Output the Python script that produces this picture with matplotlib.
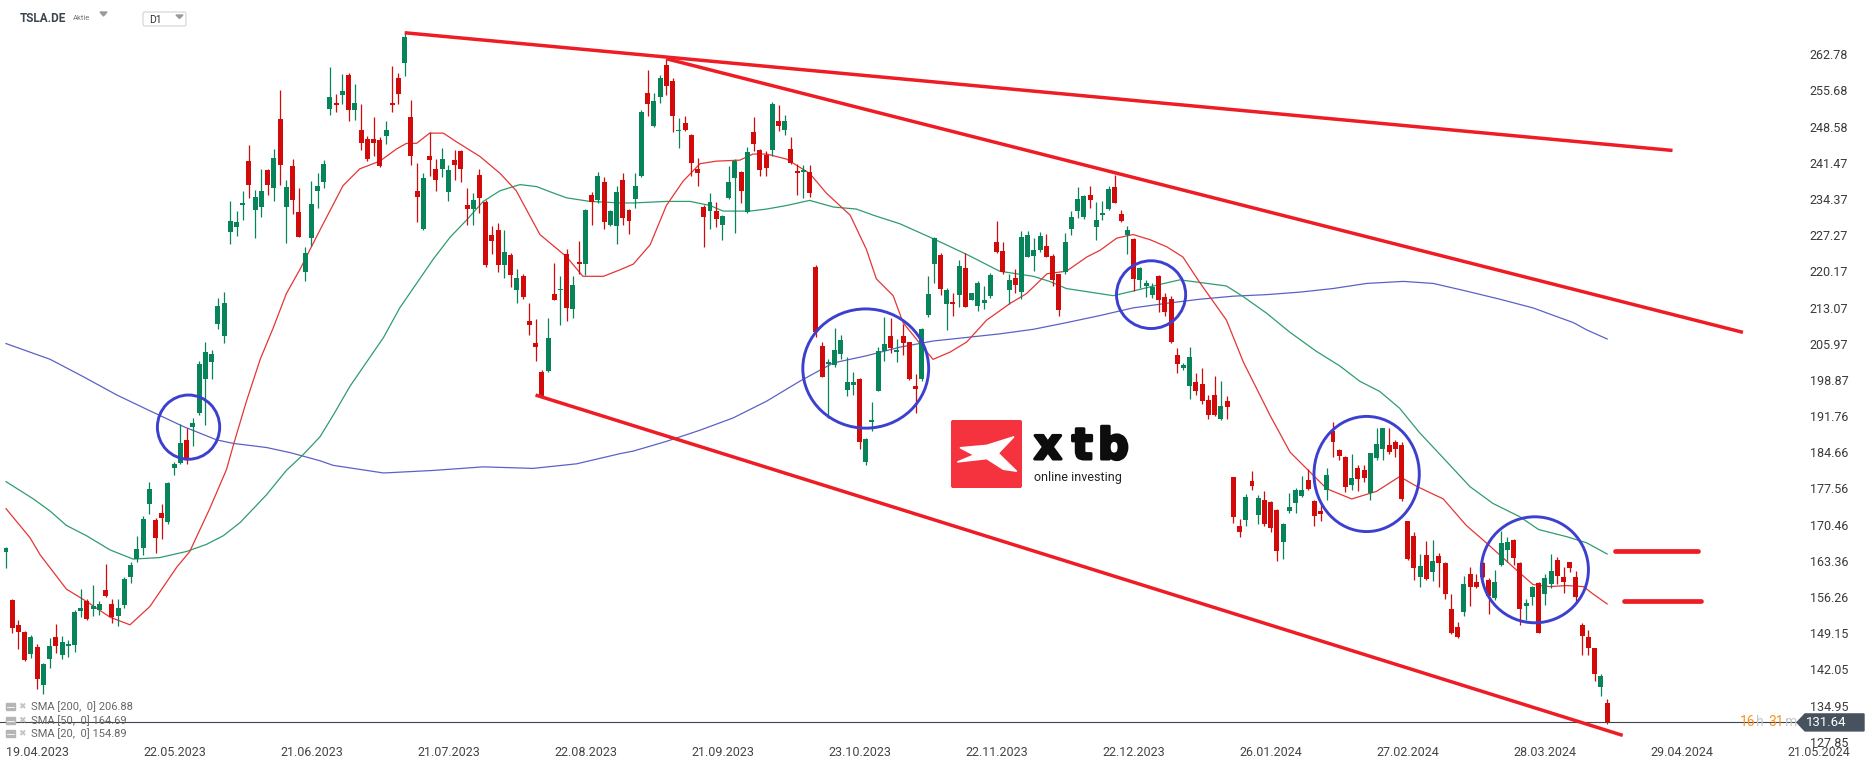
import numpy as np
import matplotlib.pyplot as plt
import matplotlib.patheffects as pe
from matplotlib.patches import Ellipse, Polygon, FancyBboxPatch, Rectangle

plt.rcParams['font.family'] = ['Roboto', 'DejaVu Sans']

# daily candles TSLA.DE, 19.04.2023 .. 22.04.2024 (EUR)
opens = [
    165.0, 155.6, 150.8, 149.3, 145.1, 146.5, 138.9, 144.1, 148.4, 144.8,
    146.6, 146.9, 153.6, 155.4, 153.9, 153.8, 157.6, 154.9, 152.5, 154.7,
    160.2, 163.7, 165.8, 174.6, 171.4, 172.7, 170.9, 181.5, 182.6, 187.0,
    189.7, 192.3, 199.0, 202.4, 209.9, 207.4, 227.8, 228.8, 233.2, 241.8,
    232.2, 232.9, 240.0, 236.5, 250.1, 232.9, 240.8, 231.9, 220.0, 226.7,
    235.9, 237.7, 252.1, 253.2, 254.7, 258.8, 251.9, 248.0, 246.2, 246.2,
    245.9, 246.8, 253.3, 258.2, 261.0, 250.4, 236.0, 228.5, 242.9, 240.3,
    240.3, 235.8, 242.0, 243.7, 233.2, 232.4, 239.1, 233.8, 227.4, 228.3,
    221.5, 223.4, 216.5, 219.2, 210.4, 206.1, 200.5, 200.7, 215.7, 216.5,
    223.5, 212.8, 222.1, 221.6, 235.2, 234.1, 237.7, 229.3, 229.1, 238.1,
    232.2, 234.3, 238.9, 255.2, 248.7, 254.4, 260.6, 257.6, 247.7, 249.2,
    247.0, 240.3, 232.8, 232.0, 232.0, 229.3, 234.6, 238.4, 239.6, 231.9,
    247.5, 243.9, 243.1, 243.9, 249.6, 248.0, 244.2, 239.8, 239.6, 239.6,
    221.1, 205.5, 202.0, 201.8, 203.9, 196.9, 197.9, 199.0, 182.7, 190.6,
    196.7, 204.5, 207.4, 204.3, 207.4, 206.3, 197.6, 199.0, 211.7, 221.6,
    223.3, 213.7, 214.1, 215.6, 220.8, 214.6, 213.3, 214.0, 215.4, 225.9,
    224.2, 216.6, 218.9, 216.1, 223.0, 223.2, 224.3, 225.2, 223.2, 219.7,
    220.0, 228.5, 232.0, 230.9, 235.2, 228.8, 231.2, 232.4, 236.7, 231.5,
    227.4, 226.6, 218.5, 217.3, 215.6, 219.2, 215.2, 214.7, 203.7, 201.3,
    197.6, 198.4, 198.1, 194.9, 195.9, 191.2, 194.7, 179.9, 170.1, 171.4,
    179.0, 172.4, 175.3, 174.9, 173.4, 167.1, 173.1, 174.8, 176.0, 179.2,
    175.1, 173.1, 177.2, 188.8, 185.1, 183.7, 178.2, 181.5, 181.1, 176.7,
    183.5, 185.3, 186.1, 186.6, 186.1, 171.2, 168.3, 160.2, 164.5, 161.1,
    164.3, 163.0, 154.0, 150.4, 153.3, 160.7, 159.2, 163.0, 159.6, 156.1,
    162.6, 165.5, 167.4, 162.9, 154.4, 156.2, 159.0, 156.8, 158.9, 163.5,
    160.2, 163.1, 160.2, 150.8, 148.4, 146.2, 138.6, 135.4,
]
highs = [
    166.1, 155.8, 151.7, 149.6, 148.8, 147.1, 143.4, 148.2, 150.9, 148.7,
    147.9, 153.7, 157.8, 155.8, 158.6, 155.5, 162.8, 155.9, 155.9, 160.2,
    163.1, 168.3, 172.2, 178.9, 171.7, 174.6, 178.9, 182.7, 190.3, 189.5,
    191.4, 202.6, 206.4, 204.8, 214.9, 216.2, 233.9, 232.0, 236.0, 245.0,
    236.2, 240.2, 240.2, 244.2, 255.8, 238.1, 242.2, 236.6, 225.0, 237.9,
    239.4, 242.0, 260.3, 254.9, 259.0, 259.2, 256.9, 253.0, 246.8, 250.4,
    246.5, 249.6, 260.5, 259.2, 267.2, 253.8, 241.5, 239.4, 247.5, 242.2,
    244.4, 241.0, 243.9, 243.9, 236.5, 235.6, 240.3, 234.1, 229.1, 229.7,
    228.3, 223.7, 220.6, 219.7, 213.9, 210.8, 200.8, 211.1, 221.8, 219.2,
    224.5, 219.2, 226.2, 232.4, 235.8, 239.7, 238.7, 232.2, 237.0, 239.5,
    232.4, 239.4, 251.8, 259.7, 255.2, 258.8, 261.9, 258.1, 250.2, 250.6,
    247.1, 242.5, 233.1, 235.5, 233.8, 231.2, 240.8, 242.2, 239.8, 244.6,
    250.4, 244.1, 243.7, 253.5, 252.8, 250.9, 246.6, 241.3, 241.1, 241.0,
    221.4, 206.3, 202.9, 209.1, 207.6, 203.4, 200.5, 199.3, 187.5, 194.5,
    205.3, 211.2, 211.1, 206.9, 209.9, 206.4, 200.0, 209.1, 219.2, 226.9,
    223.7, 217.0, 215.9, 222.4, 223.7, 215.9, 218.2, 217.3, 219.9, 230.0,
    225.9, 219.7, 220.6, 228.1, 228.0, 226.7, 227.8, 227.6, 223.5, 219.7,
    227.7, 232.0, 236.8, 235.2, 236.9, 233.8, 233.9, 236.9, 239.1, 232.2,
    229.1, 226.8, 221.1, 218.4, 217.8, 219.4, 216.0, 215.3, 205.1, 202.2,
    205.3, 200.3, 201.3, 195.9, 199.7, 198.6, 195.7, 179.9, 171.5, 176.5,
    181.0, 176.3, 177.0, 175.1, 173.6, 170.7, 176.7, 177.6, 180.1, 181.3,
    175.3, 174.6, 181.5, 190.7, 185.3, 184.0, 184.4, 182.1, 182.1, 184.6,
    189.4, 189.4, 189.4, 187.1, 186.6, 171.2, 169.0, 164.7, 167.3, 167.4,
    164.8, 163.2, 156.8, 151.4, 160.4, 162.1, 160.7, 163.2, 159.9, 161.6,
    169.3, 168.1, 167.6, 163.1, 155.8, 158.5, 159.2, 160.7, 164.7, 164.2,
    162.1, 163.2, 161.4, 151.1, 149.8, 146.3, 141.2, 136.2,
]
lows = [
    161.9, 149.1, 146.1, 143.7, 144.2, 138.3, 137.3, 142.3, 145.3, 144.1,
    144.5, 145.5, 152.3, 151.8, 152.5, 152.8, 156.3, 151.1, 150.6, 154.1,
    159.0, 163.1, 164.5, 172.5, 164.8, 167.7, 170.5, 180.3, 182.4, 182.4,
    185.8, 191.9, 190.1, 199.0, 208.9, 206.1, 225.6, 227.2, 230.2, 234.6,
    226.7, 230.8, 235.2, 233.9, 237.2, 225.7, 231.5, 226.9, 218.2, 225.2,
    232.6, 236.5, 250.9, 251.5, 253.1, 249.6, 249.8, 243.9, 241.9, 242.9,
    240.6, 245.2, 251.4, 253.0, 258.6, 241.1, 229.8, 228.2, 238.9, 236.0,
    238.7, 233.9, 238.1, 237.7, 229.3, 229.2, 231.7, 221.1, 223.5, 220.1,
    218.9, 217.1, 213.9, 214.7, 207.7, 202.6, 195.5, 200.5, 214.5, 209.6,
    210.4, 211.1, 219.7, 219.5, 229.3, 233.6, 228.5, 229.1, 225.6, 229.3,
    227.6, 232.6, 238.7, 250.6, 248.5, 253.3, 254.7, 247.5, 244.4, 247.7,
    238.9, 237.0, 225.0, 228.5, 228.8, 226.4, 234.3, 227.7, 233.6, 231.7,
    243.7, 238.9, 238.9, 242.9, 247.7, 247.0, 241.3, 235.2, 234.6, 234.8,
    207.2, 199.5, 191.4, 201.4, 202.9, 195.7, 195.9, 185.3, 182.2, 188.9,
    196.7, 202.6, 204.1, 202.4, 203.8, 198.8, 192.3, 198.6, 211.2, 217.9,
    215.6, 208.6, 211.5, 213.2, 213.2, 214.5, 212.3, 212.8, 214.9, 223.7,
    219.7, 213.7, 215.9, 214.7, 222.9, 220.2, 224.0, 223.0, 217.3, 211.5,
    219.7, 227.4, 230.7, 230.5, 232.6, 226.4, 230.2, 232.2, 233.6, 229.8,
    223.5, 216.3, 217.0, 215.1, 214.9, 212.2, 211.5, 206.1, 200.3, 200.9,
    195.2, 195.9, 194.2, 191.1, 191.7, 190.9, 191.2, 170.7, 168.1, 170.1,
    177.2, 170.5, 170.1, 169.0, 163.3, 163.8, 172.7, 172.7, 175.8, 177.2,
    170.2, 171.2, 175.3, 183.7, 183.2, 176.8, 177.2, 177.0, 178.8, 175.3,
    183.2, 183.2, 184.4, 183.7, 175.1, 163.5, 159.6, 158.3, 159.6, 159.4,
    158.3, 155.9, 148.9, 148.2, 152.5, 154.4, 158.1, 159.9, 153.0, 155.6,
    162.3, 163.1, 162.6, 150.8, 151.7, 154.6, 149.1, 154.6, 158.1, 158.8,
    157.1, 161.1, 155.2, 144.8, 144.8, 139.8, 136.9, 131.4,
]
closes = [
    165.8, 150.1, 149.3, 143.9, 148.5, 140.2, 143.2, 146.6, 146.6, 147.4,
    147.0, 153.3, 154.1, 152.0, 154.4, 154.8, 156.4, 152.3, 154.1, 159.7,
    162.6, 165.6, 171.5, 177.5, 167.9, 171.7, 178.6, 182.3, 186.5, 183.2,
    190.4, 201.9, 204.3, 203.9, 213.3, 213.9, 230.0, 229.8, 233.6, 237.2,
    234.8, 236.0, 237.1, 242.4, 241.0, 236.7, 234.1, 227.0, 223.7, 233.4,
    236.9, 241.3, 254.4, 252.8, 255.6, 251.9, 253.3, 245.4, 242.2, 245.3,
    240.8, 248.0, 252.9, 254.9, 266.2, 242.9, 234.8, 238.4, 242.1, 238.1,
    242.2, 240.0, 241.0, 240.3, 232.4, 234.1, 234.6, 221.4, 226.2, 221.4,
    223.9, 219.4, 218.9, 215.1, 209.6, 205.3, 195.7, 207.0, 214.5, 216.8,
    213.0, 217.5, 221.6, 232.2, 233.8, 238.9, 229.8, 232.0, 235.7, 230.7,
    230.0, 237.0, 251.5, 253.1, 253.6, 258.1, 256.6, 250.6, 248.0, 248.0,
    241.5, 239.4, 230.9, 233.8, 230.4, 231.0, 237.7, 241.9, 236.0, 243.5,
    245.1, 240.0, 240.5, 253.1, 248.7, 249.6, 241.5, 239.4, 240.0, 235.5,
    208.2, 199.5, 202.3, 204.7, 206.7, 198.4, 198.4, 186.6, 187.3, 190.9,
    204.5, 205.9, 205.1, 204.7, 206.1, 199.0, 197.1, 208.9, 215.7, 226.7,
    216.8, 216.6, 213.7, 221.3, 213.2, 215.9, 217.8, 214.6, 219.5, 224.0,
    220.0, 218.4, 217.5, 226.9, 227.4, 224.3, 227.2, 223.0, 218.4, 212.5,
    225.9, 230.9, 234.3, 235.0, 234.1, 230.2, 231.7, 236.3, 233.6, 230.1,
    228.3, 218.7, 220.8, 217.8, 217.1, 214.6, 212.2, 206.3, 201.9, 201.7,
    203.3, 196.6, 194.7, 192.0, 192.0, 193.8, 193.6, 171.9, 169.1, 175.8,
    178.0, 175.7, 170.5, 169.8, 165.3, 170.6, 173.9, 177.2, 177.3, 177.5,
    172.2, 172.5, 180.2, 186.6, 184.0, 177.9, 179.6, 179.4, 179.6, 184.5,
    186.3, 189.4, 184.7, 185.4, 175.4, 163.8, 161.9, 162.3, 159.7, 163.3,
    163.0, 156.8, 149.2, 148.5, 158.9, 158.3, 158.3, 160.2, 156.4, 159.2,
    166.9, 167.1, 164.0, 153.9, 155.1, 158.3, 149.1, 160.0, 161.4, 160.4,
    159.2, 161.9, 156.3, 148.7, 146.3, 141.2, 140.7, 131.64,
]

# moving averages: (candle index, value)
sma200_x = [0, 7.1, 12.4, 17.8, 23.1, 28.5, 33.8, 36.5, 41.8, 45.6, 50.4, 52.5,
            60.6, 68.6, 76.6, 84.6, 91.6, 98.6, 100.7, 106.0, 111.4, 116.7,
            122.1, 127.4, 132.8, 138.1, 143.5, 148.8, 154.2, 159.5, 164.9,
            170.2, 175.6, 180.9, 186.3, 191.6, 197.0, 202.3, 207.7, 213.0,
            218.4, 224.3, 229.1, 234.4, 239.8, 245.1, 251.6, 253.7, 257.0]
sma200_y = [206.0, 202.9, 199.5, 195.9, 192.8, 189.7, 187.1, 186.4, 185.6, 184.6,
            183.0, 182.1, 180.6, 181.1, 181.8, 181.5, 182.4, 184.4, 184.9, 186.8,
            189.0, 191.4, 194.7, 198.6, 202.2, 203.6, 205.3, 206.5, 207.2, 207.9,
            208.8, 210.1, 211.5, 213.0, 213.9, 214.7, 215.3, 215.6, 216.1, 216.8,
            217.8, 218.2, 217.8, 216.3, 214.7, 213.0, 210.1, 208.7, 206.9]

sma50_x = [0, 4.4, 7.1, 9.7, 12.9, 16.7, 20.4, 24.7, 29.0, 32.2, 34.9, 37.6, 41.8,
           45.0, 47.7, 50.4, 52.5, 55.2, 57.9, 60.6, 63.2, 65.9, 68.6, 71.3, 73.9,
           76.6, 79.3, 82.5, 85.2, 87.3, 90.0, 93.7, 98.6, 100.7, 106.0, 109.8,
           113.0, 115.1, 119.4, 122.1, 125.3, 129.0, 132.8, 136.5, 139.2, 143.5,
           148.8, 154.2, 159.5, 164.9, 167.5, 170.2, 172.9, 177.7, 180.9, 185.2,
           188.4, 191.6, 195.9, 198.6, 202.3, 206.1, 210.3, 214.1, 217.3, 220.5,
           223.7, 226.9, 230.2, 235.0, 238.7, 243.0, 246.0, 250.5, 253.7, 257.0]
sma50_y = [178.9, 175.5, 173.1, 170.3, 168.3, 165.5, 163.7, 164.0, 165.2, 166.6,
           168.3, 170.9, 176.3, 181.1, 184.2, 187.7, 191.9, 197.6, 202.4, 207.2,
           213.0, 217.8, 222.6, 226.9, 230.2, 233.9, 236.0, 237.2, 236.8, 235.8,
           234.6, 233.9, 233.6, 233.6, 233.9, 233.9, 233.1, 232.0, 232.0, 232.4,
           233.1, 234.1, 232.8, 232.4, 231.2, 229.5, 226.6, 223.5, 220.2, 219.2,
           218.2, 216.8, 216.3, 215.4, 216.3, 217.6, 218.5, 218.0, 217.3, 215.2,
           212.0, 208.2, 204.5, 201.6, 198.6, 196.6, 193.3, 188.5, 184.2, 177.9,
           174.6, 172.0, 169.5, 168.1, 166.9, 164.7]

sma20_x = [0, 3.85, 5.5, 9.7, 12.9, 16.7, 19.9, 23.1, 27.4, 29.5, 32.7, 35.4, 36.5,
           38.6, 40.8, 42.9, 45.0, 47.2, 50.4, 54.1, 56.8, 60.0, 62.7, 64.3, 65.9,
           68.0, 70.2, 72.3, 76.1, 79.3, 81.9, 85.7, 90.0, 92.6, 95.9, 98.6, 100.7,
           103.4, 106.0, 108.7, 111.4, 114.0, 117.8, 119.9, 122.1, 125.3, 129.0,
           131.7, 135.5, 138.1, 139.7, 142.4, 144.0, 146.5, 148.8, 151.5, 154.2,
           157.4, 161.2, 163.8, 167.1, 170.2, 173.5, 175.6, 178.3, 180.9, 183.6,
           186.3, 188.9, 191.6, 195.9, 198.6, 202.9, 206.1, 209.3, 212.0, 216.0,
           220.0, 223.7, 226.4, 230.7, 234.4, 237.6, 242.5, 245.1, 247.8, 250.5,
           253.2, 254.8, 257.0]
sma20_y = [173.6, 167.9, 164.5, 157.8, 155.4, 152.3, 150.8, 154.4, 162.1, 165.2,
           173.6, 181.3, 186.1, 194.7, 202.9, 209.1, 215.8, 220.6, 228.3, 237.0,
           240.3, 241.8, 244.2, 245.3, 245.3, 247.3, 247.3, 245.6, 242.7, 239.4,
           236.0, 227.4, 223.0, 219.2, 219.2, 220.5, 221.6, 225.4, 233.1, 237.9,
           241.3, 241.8, 242.0, 243.2, 243.2, 242.2, 239.4, 235.5, 231.2, 224.5,
           218.7, 215.4, 210.1, 206.3, 202.9, 204.3, 206.3, 210.6, 213.9, 215.8,
           219.7, 220.2, 223.0, 224.3, 226.7, 227.4, 226.4, 225.0, 223.0, 218.0,
           210.6, 202.4, 191.9, 184.7, 180.8, 177.5, 175.5, 177.0, 179.9, 178.0,
           175.5, 170.3, 166.9, 161.5, 158.7, 158.3, 158.5, 158.3, 156.8, 154.9]

sma_labels = ['SMA [200,  0] 206.88', 'SMA [50,  0] 164.69', 'SMA [20,  0] 154.89']

# drawn analysis: trend lines (x0, x1, y0, y1), levels, circles
trend_x = [(64, 267.5), (106, 278.8), (85, 259.5)]
trend_y = [(267.0, 243.9), (261.9, 208.2), (195.9, 129.1)]
level_y = [165.3, 155.5]
level_x = [(258.3, 271.6), (259.7, 272.0)]
ell_x = [29.3, 138.0, 183.8, 218.4, 245.4]
ell_y = [189.6, 201.1, 215.6, 180.4, 161.6]
ell_w = [10.0, 20.2, 11.1, 16.9, 17.2]
ell_h = [12.6, 23.4, 13.3, 22.6, 20.8]

ytick_vals = [262.78, 255.68, 248.58, 241.47, 234.37, 227.27, 220.17, 213.07,
              205.97, 198.87, 191.76, 184.66, 177.56, 170.46, 163.36, 156.26,
              149.15, 142.05, 134.95, 127.85]
xtick_pos = [0, 22, 44, 66, 88, 110, 132, 154, 176, 198, 220, 242, 264, 286]
xtick_lbl = ['19.04.2023', '22.05.2023', '21.06.2023', '21.07.2023', '22.08.2023',
             '21.09.2023', '23.10.2023', '22.11.2023', '22.12.2023', '26.01.2024',
             '27.02.2024', '28.03.2024', '29.04.2024', '21.05.2024']

GREEN = '#08845a'
RED = '#d20a0a'

o = np.array(opens)
h = np.array(highs)
l = np.array(lows)
c = np.array(closes)
idx = np.arange(len(c))

fig = plt.figure(figsize=(18.66, 7.67), dpi=100)
ax = fig.add_axes([0, 25 / 767, 1800 / 1866, 742 / 767])
ax.set_xlim(-0.963, 287.96)
ax.set_ylim(127.80, 273.43)
for s in ax.spines.values():
    s.set_visible(False)

# moving averages
ax.plot(sma200_x, sma200_y, color='#5b62c6', lw=0.9, zorder=2)
ax.plot(sma50_x, sma50_y, color='#2f9c6e', lw=0.9, zorder=2)
ax.plot(sma20_x, sma20_y, color='#e53535', lw=0.9, zorder=2)

# candles
up = c >= o
col = np.where(up, GREEN, RED)
ax.vlines(idx, l, h, colors=col, lw=0.9, zorder=3)
ax.bar(idx, np.maximum(np.abs(c - o), 0.3), bottom=np.minimum(o, c), width=0.8,
       color=col, linewidth=0, zorder=4)

# last price line
ax.axhline(c[-1], color='#3b4650', lw=0.8, zorder=1)

# trend lines and levels
for xs, ys in zip(trend_x, trend_y):
    ax.plot(xs, ys, color='#ee1c24', lw=2.5, zorder=5, solid_capstyle='butt')
for y, xs in zip(level_y, level_x):
    ax.plot(xs, [y, y], color='#ee1c24', lw=3.4, zorder=5, solid_capstyle='round')

for x, y, w, hh in zip(ell_x, ell_y, ell_w, ell_h):
    ax.add_patch(Ellipse((x, y), w, hh, fill=False, ec='#3d40cf', lw=2.1, zorder=6))

# axes ticks
ax.yaxis.tick_right()
ax.set_yticks(ytick_vals)
ax.set_yticklabels([f'{v:.2f}' for v in ytick_vals])
ax.tick_params(axis='y', length=0, pad=7, labelsize=9, labelcolor='#3a3a3a')
ax.set_xticks(xtick_pos)
ax.set_xticklabels(xtick_lbl)
ax.tick_params(axis='x', length=0, pad=3, labelsize=9, labelcolor='#444444')
for t in ax.get_xticklabels():
    t.set_ha('left')

# overlay in pixel units for header, logo, legend
ov = fig.add_axes([0, 0, 1, 1], zorder=10)
ov.set_xlim(0, 1866)
ov.set_ylim(767, 0)
ov.axis('off')
ov.patch.set_alpha(0)

ov.text(20, 19, 'TSLA.DE', fontsize=8.5, fontweight='bold', color='#3a4651', va='center')
ov.text(73, 18, 'Aktie', fontsize=5.5, color='#777777', va='center')
ov.add_patch(Polygon([(100, 12), (107, 12), (103.5, 16)], color='#9a9a9a'))
ov.add_patch(FancyBboxPatch((143, 12), 43, 14, boxstyle='round,pad=0,rounding_size=2',
                            fc='white', ec='#d3d3d3', lw=0.8))
ov.text(149, 20, 'D1', fontsize=7.5, color='#333333', va='center')
ov.add_patch(Polygon([(176, 15), (183, 15), (179.5, 18.5)], color='#9a9a9a'))

# xtb logo
ov.add_patch(FancyBboxPatch((951, 420), 71, 68, boxstyle='round,pad=0,rounding_size=2',
                            fc='#f4333f', ec='none'))
ov.add_patch(Polygon([(960, 447.7), (986.7, 445.3), (1014, 436.7), (998.3, 453.3),
                      (1016.7, 471.3), (1003.3, 469.3), (986.7, 458.7), (957.3, 462),
                      (974, 455)], color='white'))
for ch, xx in zip('xtb', [1034, 1072, 1098]):
    ov.text(xx, 459, ch, fontsize=31, fontweight='bold', family='DejaVu Sans',
            color='#0d0d0d', va='baseline', ha='left',
            path_effects=[pe.withStroke(linewidth=2.2, foreground='#0d0d0d')])
ov.text(1034, 477, 'online investing', fontsize=9, color='#222222', va='center')

# legend rows bottom left
for yy, txt in zip([707, 721, 734], sma_labels):
    ov.add_patch(Rectangle((6, yy - 4), 9, 7, color='#b5b5b5'))
    ov.plot([7, 14], [yy - 0.5, yy - 0.5], color='white', lw=0.6)
    ov.text(18, yy, '✖', fontsize=6.5, color='#c4c4c4', va='center', family='DejaVu Sans')
    ov.text(31, yy, txt, fontsize=8, color='#666666', va='center')

# last price tag
py = ov.transData.inverted().transform(ax.transData.transform((0, c[-1])))[1]
for txt, xx, cc in zip(['16', 'h', '31', 'm'], [1740, 1756, 1768, 1785],
                       ['#f7941d', '#c9c9c9', '#f7941d', '#c9c9c9']):
    ov.text(xx, py, txt, fontsize=10, color=cc, va='center', ha='left')
ov.add_patch(Polygon([(1797, py), (1805, py - 8.5), (1864, py - 8.5), (1864, py + 8.5),
                      (1805, py + 8.5)], color='#46535e', zorder=5))
ov.text(1826, py, f'{c[-1]:.2f}', fontsize=9.5, color='white', va='center', ha='center', zorder=6)

fig.savefig('out.png', dpi=100)
